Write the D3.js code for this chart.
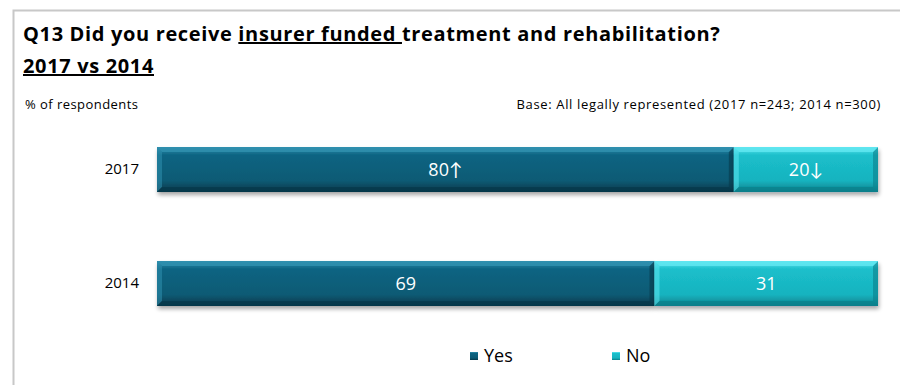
<!DOCTYPE html>
<html>
<head>
<meta charset="utf-8">
<script src="https://cdn.jsdelivr.net/npm/d3@7"></script>
<style>
  html, body { margin: 0; padding: 0; background: #fff; }
  svg { display: block; font-family: "Open Sans", Lato, "Liberation Sans", sans-serif; }
</style>
</head>
<body>
<svg id="chart" width="900" height="385"></svg>
<script>
// Survey results, % of respondents
const years = ["2017", "2014"];
const yesValues = [80, 69];
const noValues = [20, 31];
const yesLabels = ["80\u2191", "69"];
const noLabels = ["20\u2193", "31"];
const seriesNames = ["Yes", "No"];

const svg = d3.select("#chart");
const W = 900, H = 385;

// Outer frame
svg.append("path")
  .attr("d", `M13.5,${H} V10.5 H${W}`)
  .attr("fill", "none").attr("stroke", "#c8c8c8").attr("stroke-width", 2);

// Title
const title = svg.append("text").attr("x", 23).attr("y", 41)
  .attr("font-size", 20).attr("font-weight", "bold").attr("fill", "#000")
  .attr("letter-spacing", 0.65);
title.append("tspan").text("Q13 Did you receive ");
title.append("tspan").attr("text-decoration", "underline").text("insurer funded ");
title.append("tspan").text("treatment and rehabilitation?");
svg.append("text").attr("x", 23).attr("y", 73)
  .attr("font-size", 20).attr("font-weight", "bold").attr("letter-spacing", 0.65)
  .attr("text-decoration", "underline").text("2017 vs 2014");

svg.append("text").attr("x", 25).attr("y", 109).attr("font-size", 13)
  .attr("letter-spacing", 0.45).text("% of respondents");
svg.append("text").attr("x", 881).attr("y", 109).attr("font-size", 13)
  .attr("letter-spacing", 0.65).attr("text-anchor", "end")
  .text("Base: All legally represented (2017 n=243; 2014 n=300)");

// Scales
const x = d3.scaleLinear().domain([0, 100]).range([157, 878]);
const y = d3.scaleBand().domain(years).range([112.8, 340.2]).paddingInner(0.605).paddingOuter(0.3);

const defs = svg.append("defs");
const palette = {
  Yes: { base: "#0b5a74", top: "#2f8fae", bottom: "#06384a", mid: "#0d6482" },
  No:  { base: "#17b3bf", top: "#5fe6f0", bottom: "#0b7f8a", mid: "#1bbfcb" }
};
Object.entries(palette).forEach(([k, c]) => {
  const g = defs.append("linearGradient").attr("id", "grad" + k)
    .attr("x1", 0).attr("y1", 0).attr("x2", 0).attr("y2", 1);
  g.append("stop").attr("offset", "0%").attr("stop-color", c.top);
  g.append("stop").attr("offset", "18%").attr("stop-color", c.mid);
  g.append("stop").attr("offset", "75%").attr("stop-color", c.base);
  g.append("stop").attr("offset", "100%").attr("stop-color", c.bottom);
});
const shadow = defs.append("filter").attr("id", "shadow")
  .attr("x", "-5%").attr("y", "-20%").attr("width", "110%").attr("height", "160%");
shadow.append("feGaussianBlur").attr("in", "SourceAlpha").attr("stdDeviation", 2);
shadow.append("feOffset").attr("dx", 1).attr("dy", 3).attr("result", "o");
shadow.append("feComponentTransfer").append("feFuncA").attr("type", "linear").attr("slope", 0.35);
const merge = shadow.append("feMerge");
merge.append("feMergeNode");
merge.append("feMergeNode").attr("in", "SourceGraphic");

// Stacked segments
const segments = [];
years.forEach((yr, i) => {
  segments.push({ year: yr, key: "Yes", x0: 0, x1: yesValues[i], label: yesLabels[i] });
  segments.push({ year: yr, key: "No", x0: yesValues[i], x1: yesValues[i] + noValues[i], label: noLabels[i] });
});

const bev = 5;
const segG = svg.selectAll("g.seg").data(segments).join("g").attr("class", "seg");
segG.append("rect")
  .attr("x", d => x(d.x0)).attr("y", d => y(d.year))
  .attr("width", d => x(d.x1) - x(d.x0)).attr("height", y.bandwidth())
  .attr("fill", d => `url(#grad${d.key})`)
  .attr("filter", "url(#shadow)");
// bevel edges
segG.append("path")
  .attr("d", d => {
    const x0 = x(d.x0), y0 = y(d.year), y1 = y0 + y.bandwidth();
    return `M${x0},${y0} L${x0 + bev},${y0 + bev} L${x0 + bev},${y1 - bev} L${x0},${y1} Z`;
  })
  .attr("fill", d => palette[d.key].top).attr("opacity", 0.55);
segG.append("path")
  .attr("d", d => {
    const x1 = x(d.x1), y0 = y(d.year), y1 = y0 + y.bandwidth();
    return `M${x1},${y0} L${x1 - bev},${y0 + bev} L${x1 - bev},${y1 - bev} L${x1},${y1} Z`;
  })
  .attr("fill", d => palette[d.key].bottom).attr("opacity", 0.6);
segG.append("path")
  .attr("d", d => {
    const x0 = x(d.x0), x1 = x(d.x1), y0 = y(d.year), y1 = y0 + y.bandwidth();
    return `M${x0},${y1} L${x0 + bev},${y1 - bev} L${x1 - bev},${y1 - bev} L${x1},${y1} Z`;
  })
  .attr("fill", d => palette[d.key].bottom).attr("opacity", 0.7);
segG.append("path")
  .attr("d", d => {
    const x0 = x(d.x0), x1 = x(d.x1), y0 = y(d.year);
    return `M${x0},${y0} L${x0 + bev},${y0 + bev} L${x1 - bev},${y0 + bev} L${x1},${y0} Z`;
  })
  .attr("fill", d => palette[d.key].top).attr("opacity", 0.85);

segG.append("text")
  .attr("x", d => (x(d.x0) + x(d.x1)) / 2)
  .attr("y", d => y(d.year) + y.bandwidth() / 2 + 6.5)
  .attr("text-anchor", "middle").attr("fill", "#fff").attr("font-size", 18)
  .text(d => d.label);

// Category axis
const yAxis = svg.append("g").attr("transform", `translate(${x(0)},0)`)
  .call(d3.axisLeft(y).tickSize(0).tickPadding(18));
yAxis.select(".domain").remove();
yAxis.selectAll("text").attr("font-size", 15).attr("fill", "#000")
  .attr("font-family", "'Open Sans', Lato, sans-serif");

// Legend
const legendX = [470, 612];
const lg = svg.selectAll("g.legend").data(seriesNames).join("g")
  .attr("class", "legend")
  .attr("transform", (d, i) => `translate(${legendX[i]},352)`);
lg.append("rect").attr("width", 8).attr("height", 8)
  .attr("fill", d => `url(#grad${d})`);
lg.append("text").attr("x", 14).attr("y", 10).attr("font-size", 18).text(d => d);
</script>
</body>
</html>
